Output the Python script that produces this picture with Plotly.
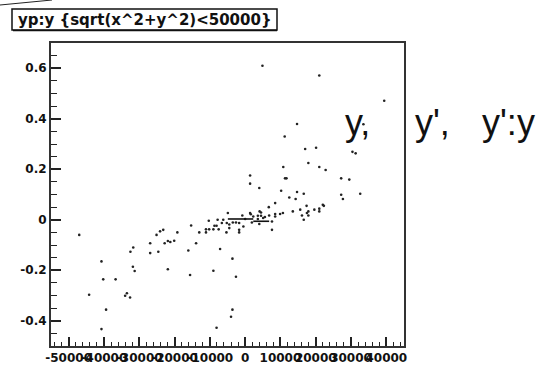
import plotly.graph_objects as go

# scatter points (y position, yp angle)
pts_x = [4900, 21000, 39400, 14700, 33500, 11200, 17000, 20100, 30400, 31300,
         17900, 10800, 21000, 22800, 1400, 11300, 11700, 27200, 29500, 1400,
         4000, 10200, 14700, 16600, 32600, 12500, 14300, 27200, 27700, 8500,
         6700, 22000, 22300, 17400, 15600, 19600, 21000, 21000, 17900, 17500,
         13500, 10700, 9900, 8500, 8500, 16100, 17900, 16600, 7600, 6800,
         7600, 1400, 1600, 4100, 4500, 4500, 3600, 2300, 3600, 5100,
         5600, 1900, 4000, 0, -800, -4900, -5200, -4500, -4500, -5300,
         -3500, -2600, -1700, -1700, -1700, -500, -3600, -2600, -3600, -4000,
         -47000, -7800, -6200, -10300, -8700, -8100, -6600, -11100, -10200, -9000,
         -7500, -13000, -11100, -15300, -19200, -13900, -16100, -20100, -21900, -21200,
         -22800, -24100, -23200, -25100, -26900, -26900, -24600, -21900, -15600, -7100,
         -9000, -8100, -32500, -31700, -31800, -31300, -34000, -33500, -32600, -36700,
         -40200, -40700, -39400, -40700, -44200]
pts_y = [0.610, 0.571, 0.471, 0.379, 0.378, 0.330, 0.280, 0.285, 0.269, 0.263,
         0.225, 0.209, 0.209, 0.197, 0.175, 0.164, 0.164, 0.164, 0.159, 0.143,
         0.126, 0.115, 0.110, 0.103, 0.103, 0.088, 0.082, 0.099, 0.082, 0.066,
         0.050, 0.059, 0.055, 0.055, 0.040, 0.040, 0.044, 0.033, 0.033, 0.027,
         0.033, 0.027, 0.023, 0.023, 0.013, 0.017, 0.017, 0.000, -0.040, 0.017,
         -0.007, 0.027, 0.022, 0.033, 0.029, 0.016, 0.016, 0.013, 0.003, 0.007,
         0.011, -0.011, -0.017, 0.003, 0.017, 0.027, -0.013, -0.019, -0.033, -0.050,
         -0.011, -0.011, -0.013, -0.040, -0.050, -0.027, -0.154, -0.226, -0.356, -0.384,
         -0.060, 0.000, 0.000, -0.004, -0.024, -0.024, -0.013, -0.038, -0.038, -0.038,
         -0.038, -0.050, -0.050, -0.023, -0.050, -0.093, -0.122, -0.083, -0.084, -0.088,
         -0.093, -0.046, -0.040, -0.060, -0.093, -0.132, -0.127, -0.196, -0.219, -0.116,
         -0.202, -0.428, -0.127, -0.110, -0.186, -0.203, -0.301, -0.291, -0.308, -0.236,
         -0.236, -0.165, -0.356, -0.433, -0.297]

# dense near-zero band drawn as short segments
seg_x = [-4900, 2300, None, 2300, 6800]
seg_y = [0.003, 0.003, None, -0.006, -0.006]

x_tickvals = [-50000, -40000, -30000, -20000, -10000, 0, 10000, 20000, 30000, 40000]
x_ticktext = ["-50000", "-40000", "-30000", "-20000", "-10000", "0", "10000", "20000", "30000", "40000"]
y_tickvals = [-0.4, -0.2, 0, 0.2, 0.4, 0.6]
y_ticktext = ["-0.4", "-0.2", "0", "0.2", "0.4", "0.6"]

title_text = "yp:y {sqrt(x^2+y^2)<50000}"
side_labels = ["y,", "y',", "y':y"]

fig = go.Figure()
fig.add_trace(go.Scatter(x=pts_x, y=pts_y, mode="markers",
                         marker=dict(size=2.6, color="#222222", line=dict(width=0)),
                         showlegend=False, hoverinfo="skip"))
fig.add_trace(go.Scatter(x=seg_x, y=seg_y, mode="lines",
                         line=dict(color="#111111", width=1.6),
                         showlegend=False, hoverinfo="skip"))

L, R, T, B = 51, 404, 43, 346
tickfont = dict(family="DejaVu Sans", size=12, color="#111111", weight="bold")
fig.update_layout(
    width=547, height=368,
    margin=dict(l=L, r=547 - R, t=T, b=368 - B, pad=0, autoexpand=False),
    paper_bgcolor="white", plot_bgcolor="white",
    xaxis=dict(range=[-55000, 45000], tickvals=x_tickvals, ticktext=x_ticktext,
               tickangle=0, ticks="inside", ticklen=9, tickwidth=1.6, tickcolor="#222222",
               minor=dict(dtick=2000, tick0=0, ticks="inside", ticklen=4.5, tickwidth=1.4, tickcolor="#222222"),
               showline=True, linewidth=2, linecolor="#333333", mirror=True, automargin=False,
               showgrid=False, zeroline=False, tickfont=tickfont, fixedrange=True),
    yaxis=dict(range=[-0.5, 0.7], tickvals=y_tickvals, ticktext=y_ticktext,
               ticks="inside", ticklen=10, tickwidth=1.6, tickcolor="#222222",
               minor=dict(dtick=0.05, tick0=0, ticks="inside", ticklen=5.5, tickwidth=1.4, tickcolor="#222222"),
               showline=True, linewidth=2, linecolor="#333333", mirror=True, automargin=False,
               showgrid=False, zeroline=False, tickfont=tickfont, fixedrange=True),
)

# paper coords are relative to the plot area
def px(x):
    return (x - L) / (R - L)
def py(y):
    return (B - y) / (B - T)

shapes = [
    dict(type="rect", xref="paper", yref="paper", x0=px(12), x1=px(277), y0=py(30), y1=py(9),
         line=dict(color="#111111", width=1.5), fillcolor="white", layer="above"),
    dict(type="line", xref="paper", yref="paper", x0=px(13), x1=px(277), y0=py(30.5), y1=py(30.5),
         line=dict(color="#111111", width=1.5)),
    dict(type="line", xref="paper", yref="paper", x0=px(0), x1=px(52), y0=py(5), y1=py(0),
         line=dict(color="#222222", width=1)),
]
fig.update_layout(shapes=shapes)

annotations = [
    dict(text=title_text, xref="paper", yref="paper", x=px(144.5), y=py(19.5),
         xanchor="center", yanchor="middle", showarrow=False,
         font=dict(family="DejaVu Sans", size=15, color="#111111", weight="bold")),
]
label_x = [343, 413, 480]
for lab, lx in zip(side_labels, label_x):
    annotations.append(dict(text=lab, xref="paper", yref="paper", x=px(lx), y=py(122),
                            xanchor="left", yanchor="middle", showarrow=False,
                            font=dict(family="Liberation Sans", size=36, color="#111111")))
fig.update_layout(annotations=annotations)

fig.write_html("out.html")
